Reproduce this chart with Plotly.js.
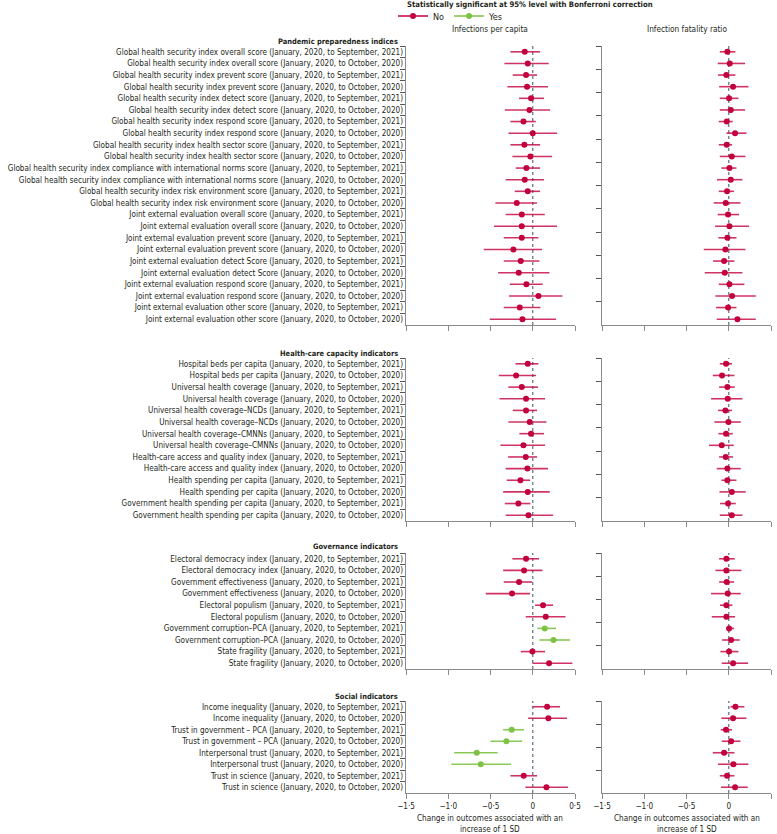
<!DOCTYPE html>
<html>
<head>
<meta charset="utf-8">
<script src="https://cdn.plot.ly/plotly-3.0.1.min.js"></script>
<style>
html,body{margin:0;padding:0;background:#fff;}
#chart{width:777px;height:834px;}
</style>
</head>
<body>
<div id="chart"></div>
<script>
// ---------------- DATA ----------------
const sectionTitles = ["Pandemic preparedness indices", "Health-care capacity indicators", "Governance indicators", "Social indicators"];

const pandemicLabels = [
  "Global health security index overall score (January, 2020, to September, 2021)",
  "Global health security index overall score (January, 2020, to October, 2020)",
  "Global health security index prevent score (January, 2020, to September, 2021)",
  "Global health security index prevent score (January, 2020, to October, 2020)",
  "Global health security index detect score (January, 2020, to September, 2021)",
  "Global health security index detect score (January, 2020, to October, 2020)",
  "Global health security index respond score (January, 2020, to September, 2021)",
  "Global health security index respond score (January, 2020, to October, 2020)",
  "Global health security index health sector score (January, 2020, to September, 2021)",
  "Global health security index health sector score (January, 2020, to October, 2020)",
  "Global health security index compliance with international norms score (January, 2020, to September, 2021)",
  "Global health security index compliance with international norms score (January, 2020, to October, 2020)",
  "Global health security index risk environment score (January, 2020, to September, 2021)",
  "Global health security index risk environment score (January, 2020, to October, 2020)",
  "Joint external evaluation overall score (January, 2020, to September, 2021)",
  "Joint external evaluation overall score (January, 2020, to October, 2020)",
  "Joint external evaluation prevent score (January, 2020, to September, 2021)",
  "Joint external evaluation prevent score (January, 2020, to October, 2020)",
  "Joint external evaluation detect Score (January, 2020, to September, 2021)",
  "Joint external evaluation detect Score (January, 2020, to October, 2020)",
  "Joint external evaluation respond score (January, 2020, to September, 2021)",
  "Joint external evaluation respond score (January, 2020, to October, 2020)",
  "Joint external evaluation other score (January, 2020, to September, 2021)",
  "Joint external evaluation other score (January, 2020, to October, 2020)"
];
const healthLabels = [
  "Hospital beds per capita (January, 2020, to September, 2021)",
  "Hospital beds per capita (January, 2020, to October, 2020)",
  "Universal health coverage (January, 2020, to September, 2021)",
  "Universal health coverage (January, 2020, to October, 2020)",
  "Universal health coverage–NCDs (January, 2020, to September, 2021)",
  "Universal health coverage–NCDs (January, 2020, to October, 2020)",
  "Universal health coverage–CMNNs (January, 2020, to September, 2021)",
  "Universal health coverage–CMNNs (January, 2020, to October, 2020)",
  "Health-care access and quality index (January, 2020, to September, 2021)",
  "Health-care access and quality index (January, 2020, to October, 2020)",
  "Health spending per capita (January, 2020, to September, 2021)",
  "Health spending per capita (January, 2020, to October, 2020)",
  "Government health spending per capita (January, 2020, to September, 2021)",
  "Government health spending per capita (January, 2020, to October, 2020)"
];
const governanceLabels = [
  "Electoral democracy index (January, 2020, to September, 2021)",
  "Electoral democracy index (January, 2020, to October, 2020)",
  "Government effectiveness (January, 2020, to September, 2021)",
  "Government effectiveness (January, 2020, to October, 2020)",
  "Electoral populism (January, 2020, to September, 2021)",
  "Electoral populism (January, 2020, to October, 2020)",
  "Government corruption–PCA (January, 2020, to September, 2021)",
  "Government corruption–PCA (January, 2020, to October, 2020)",
  "State fragility (January, 2020, to September, 2021)",
  "State fragility (January, 2020, to October, 2020)"
];
const socialLabels = [
  "Income inequality (January, 2020, to September, 2021)",
  "Income inequality (January, 2020, to October, 2020)",
  "Trust in government – PCA (January, 2020, to September, 2021)",
  "Trust in government – PCA (January, 2020, to October, 2020)",
  "Interpersonal trust (January, 2020, to September, 2021)",
  "Interpersonal trust (January, 2020, to October, 2020)",
  "Trust in science (January, 2020, to September, 2021)",
  "Trust in science (January, 2020, to October, 2020)"
];

// Infections per capita (all 56 rows, in the order of the label arrays above)
const ipcEst = [
  -0.095,-0.059,-0.079,-0.067,-0.020,-0.039,-0.110,0.000,-0.099,-0.028,-0.075,-0.095,-0.059,-0.189,-0.130,-0.130,-0.130,-0.229,-0.142,-0.166,-0.075,0.067,-0.154,-0.122,
  -0.059,-0.197,-0.130,-0.079,-0.079,-0.036,-0.020,-0.110,-0.083,-0.063,-0.146,-0.059,-0.170,-0.051,
  -0.079,-0.103,-0.162,-0.245,0.122,0.154,0.142,0.245,-0.004,0.193,
  0.170,0.185,-0.249,-0.312,-0.663,-0.615,-0.107,0.162];
const ipcLow = [
  -0.264,-0.335,-0.237,-0.300,-0.162,-0.331,-0.264,-0.288,-0.264,-0.241,-0.201,-0.320,-0.213,-0.442,-0.320,-0.458,-0.343,-0.580,-0.343,-0.410,-0.272,-0.280,-0.343,-0.509,
  -0.205,-0.402,-0.288,-0.394,-0.237,-0.288,-0.158,-0.383,-0.292,-0.320,-0.308,-0.350,-0.331,-0.320,
  -0.241,-0.350,-0.343,-0.556,0.028,-0.083,0.055,0.079,-0.142,-0.004,
  0.000,-0.055,-0.351,-0.501,-0.931,-0.963,-0.264,-0.087];
const ipcHigh = [
  0.087,0.189,0.051,0.181,0.134,0.205,0.036,0.288,0.087,0.229,0.087,0.134,0.087,0.051,0.142,0.288,0.067,0.110,0.079,0.197,0.118,0.351,0.091,0.276,
  0.067,0.039,0.063,0.146,0.051,0.162,0.134,0.146,0.051,0.181,-0.032,0.201,-0.028,0.241,
  0.075,0.114,-0.008,-0.032,0.241,0.387,0.276,0.442,0.146,0.469,
  0.323,0.406,-0.103,-0.126,-0.414,-0.256,0.051,0.418];
const ipcSignificant = [
  0,0,0,0,0,0,0,0,0,0,0,0,0,0,0,0,0,0,0,0,0,0,0,0,
  0,0,0,0,0,0,0,0,0,0,0,0,0,0,
  0,0,0,0,0,0,1,1,0,0,
  0,0,1,1,1,1,0,0];

// Infection fatality ratio
const ifrEst = [
  -0.016,0.012,-0.028,0.051,0.004,0.024,-0.024,0.075,-0.024,0.036,0.008,0.024,-0.020,-0.036,-0.008,0.008,-0.016,-0.039,-0.055,-0.047,0.008,0.039,-0.008,0.103,
  -0.032,-0.079,-0.016,-0.012,-0.039,-0.004,-0.032,-0.083,-0.036,-0.016,-0.016,0.036,-0.008,0.036,
  -0.028,-0.028,-0.024,-0.012,-0.028,-0.028,0.004,0.028,0.004,0.051,
  0.079,0.051,-0.032,0.028,-0.055,0.055,-0.020,0.075];
const ifrLow = [
  -0.106,-0.130,-0.126,-0.114,-0.106,-0.106,-0.118,-0.028,-0.118,-0.106,-0.087,-0.138,-0.118,-0.178,-0.130,-0.162,-0.122,-0.296,-0.185,-0.284,-0.118,-0.158,-0.150,-0.142,
  -0.106,-0.189,-0.114,-0.209,-0.126,-0.170,-0.122,-0.233,-0.114,-0.142,-0.087,-0.110,-0.103,-0.106,
  -0.114,-0.158,-0.114,-0.209,-0.103,-0.201,-0.032,-0.079,-0.099,-0.083,
  0.020,-0.087,-0.095,-0.083,-0.189,-0.126,-0.106,-0.091];
const ifrHigh = [
  0.079,0.193,0.079,0.233,0.114,0.193,0.047,0.209,0.039,0.197,0.091,0.162,0.063,0.138,0.122,0.241,0.091,0.197,0.067,0.162,0.185,0.320,0.091,0.320,
  0.039,0.067,0.071,0.162,0.039,0.142,0.047,0.059,0.051,0.142,0.091,0.201,0.083,0.162,
  0.071,0.150,0.063,0.142,0.043,0.075,0.063,0.130,0.114,0.229,
  0.185,0.209,0.039,0.138,0.067,0.233,0.067,0.225];
const ifrSignificant = new Array(56).fill(0);

const panelTitles = ["Infections per capita", "Infection fatality ratio"];
const xTickVals = [-1.5, -1, -0.5, 0, 0.5];
const xTickText = ["−1·5", "−1·0", "−0·5", "0", "0·5"];
const legendTitle = "Statistically significant at 95% level with Bonferroni correction";
const legendNames = ["No", "Yes"];
const xAxisTitle = ["Change in outcomes associated with an", "increase of 1 SD"];

// ---------------- FONT FITTING ----------------
const cv = document.createElement("canvas").getContext("2d");
function w(text, fam, size, bold) {
  cv.font = (bold ? "bold " : "") + size + "px " + fam;
  return cv.measureText(text).width;
}
function available(f) {
  const t = "mmmmmmmmmmlliiWWQ@#1";
  return w(t, "'" + f + "', monospace", 60) !== w(t, "monospace", 60) ||
         w(t, "'" + f + "', serif", 60) !== w(t, "serif", 60);
}
const candidates = ["Liberation Sans Narrow", "DejaVu Sans Condensed", "Roboto Condensed", "Lato", "Liberation Sans", "Roboto"];
let chosen = candidates.find(available) || "sans-serif";
const FAM = "'" + chosen + "', sans-serif";
function fit(text, target, bold, maxSize) {
  const s = 20 * target / w(text, FAM, 20, bold);
  return Math.min(maxSize || 99, Math.round(s * 100) / 100);
}
const labelSize = fit(pandemicLabels[10], 396, false, 9.6);
const sectionSize = fit(sectionTitles[0], 120, true, 10.5);
const panelTitleSize = fit(panelTitles[0], 76, false, 11);
const legendTitleSize = fit(legendTitle, 246, true, 11);
const legendSize = fit("Yes", 13, false, 11);
const axisTitleSize = fit(xAxisTitle[0], 146, false, 11);
const tickSize = Math.min(axisTitleSize, 10);

// ---------------- LAYOUT / DRAWING ----------------
const W = 777, H = 834;
const RED = "#c2003d", GREEN = "#7dc242";
const sigColors = [RED, GREEN];
const barColors = ["rgba(194,0,61,0.8)", "rgba(125,194,66,0.9)"];
const AXIS = "#8a8a8a";
const TXT = "#231f20";

const sections = [pandemicLabels, healthLabels, governanceLabels, socialLabels];
const colPx = [[406, 575], [602, 771]];
const rowPx = [[46, 325], [358, 521], [553, 669], [701, 793]];
const titlePx = [41, 353, 546, 696];
const px = v => v / W;
const py = v => 1 - v / H;

const columns = [
  {est: ipcEst, lo: ipcLow, hi: ipcHigh, sig: ipcSignificant},
  {est: ifrEst, lo: ifrLow, hi: ifrHigh, sig: ifrSignificant}
];

const traces = [];
const layout = {
  width: W, height: H, autosize: false,
  margin: {l: 0, r: 0, t: 0, b: 0, pad: 0},
  paper_bgcolor: "#fff", plot_bgcolor: "#fff",
  font: {family: FAM, size: labelSize, color: TXT},
  showlegend: true,
  legend: {
    orientation: "h", x: px(393), y: py(16), xanchor: "left", yanchor: "middle",
    font: {size: legendSize, color: TXT}, bgcolor: "rgba(0,0,0,0)", borderwidth: 0,
    itemwidth: 30, tracegroupgap: 0
  },
  annotations: [], shapes: []
};

let offset = 0;
sections.forEach((labels, s) => {
  const n = labels.length;
  columns.forEach((col, c) => {
    const k = c * 4 + s + 1;
    const xa = k === 1 ? "x" : "x" + k;
    const ya = k === 1 ? "y" : "y" + k;
    [0, 1].forEach(sg => {
      const xs = [], ys = [], ep = [], em = [];
      for (let i = 0; i < n; i++) {
        const j = offset + i;
        if (col.sig[j] !== sg) continue;
        xs.push(col.est[j]); ys.push(labels[i]);
        ep.push(col.hi[j] - col.est[j]); em.push(col.est[j] - col.lo[j]);
      }
      if (!xs.length) return;
      traces.push({
        type: "scatter", mode: "markers", x: xs, y: ys, xaxis: xa, yaxis: ya,
        showlegend: false, hoverinfo: "x+y",
        marker: {color: sigColors[sg], size: 6},
        error_x: {type: "data", symmetric: false, array: ep, arrayminus: em, color: barColors[sg], thickness: 1.6, width: 0}
      });
    });
    layout[k === 1 ? "xaxis" : "xaxis" + k] = {
      domain: [px(colPx[c][0]), px(colPx[c][1])], anchor: ya,
      range: [-1.5, 0.5], tickmode: "array", tickvals: xTickVals, ticktext: xTickText,
      showticklabels: s === 3, ticks: "outside", ticklen: 5, tickcolor: AXIS, tickwidth: 1,
      showline: true, linecolor: AXIS, linewidth: 1.3, showgrid: false, zeroline: false,
      tickfont: {size: tickSize, color: TXT}, fixedrange: true, title: {text: ""}
    };
    layout[k === 1 ? "yaxis" : "yaxis" + k] = {
      domain: [py(rowPx[s][1]), py(rowPx[s][0])], anchor: xa,
      type: "category", categoryorder: "array", categoryarray: labels,
      range: [n - 0.5, -0.5], tickson: "boundaries",
      ticks: "outside", ticklen: 5, tickcolor: "#555", tickwidth: 1,
      showline: true, linecolor: AXIS, linewidth: 1.3, showgrid: false, zeroline: false,
      showticklabels: c === 0, tickfont: {size: labelSize, color: TXT}, fixedrange: true
    };
    layout.shapes.push({
      type: "line", xref: xa, yref: ya + " domain", x0: 0, x1: 0, y0: 0, y1: 1,
      line: {color: "#66798a", width: 1.3, dash: "dot"}, layer: "below"
    });
  });
  layout.annotations.push({
    text: "<b>" + sectionTitles[s] + "</b>", xref: "paper", yref: "paper",
    x: px(400), y: py(titlePx[s]), xanchor: "right", yanchor: "middle",
    showarrow: false, font: {size: sectionSize, color: TXT}
  });
  offset += n;
});

panelTitles.forEach((t, c) => {
  const cx = px((colPx[c][0] + colPx[c][1]) / 2);
  layout.annotations.push({
    text: t, xref: "paper", yref: "paper",
    x: cx, y: py(29), xanchor: "center", yanchor: "middle",
    showarrow: false, font: {size: panelTitleSize, color: TXT}
  });
  // x-axis title (two lines) below each bottom panel
  xAxisTitle.forEach((line, li) => {
    layout.annotations.push({
      text: line, xref: "paper", yref: "paper",
      x: cx, y: py(818 + li * 10.5), xanchor: "center", yanchor: "middle",
      showarrow: false, font: {size: axisTitleSize, color: TXT}
    });
  });
});
layout.annotations.push({
  text: "<b>" + legendTitle + "</b>", xref: "paper", yref: "paper",
  x: px(405), y: py(5), xanchor: "left", yanchor: "middle",
  showarrow: false, font: {size: legendTitleSize, color: TXT}
});

// legend-only entries (line + marker symbol)
legendNames.forEach((name, sg) => {
  traces.push({
    type: "scatter", mode: "lines+markers", x: [null], y: [null], name: name,
    xaxis: "x", yaxis: "y", showlegend: true, hoverinfo: "skip",
    line: {color: sigColors[sg], width: 1.5}, marker: {color: sigColors[sg], size: 6}
  });
});

Plotly.newPlot("chart", traces, layout, {displayModeBar: false, staticPlot: true});
</script>
</body>
</html>
